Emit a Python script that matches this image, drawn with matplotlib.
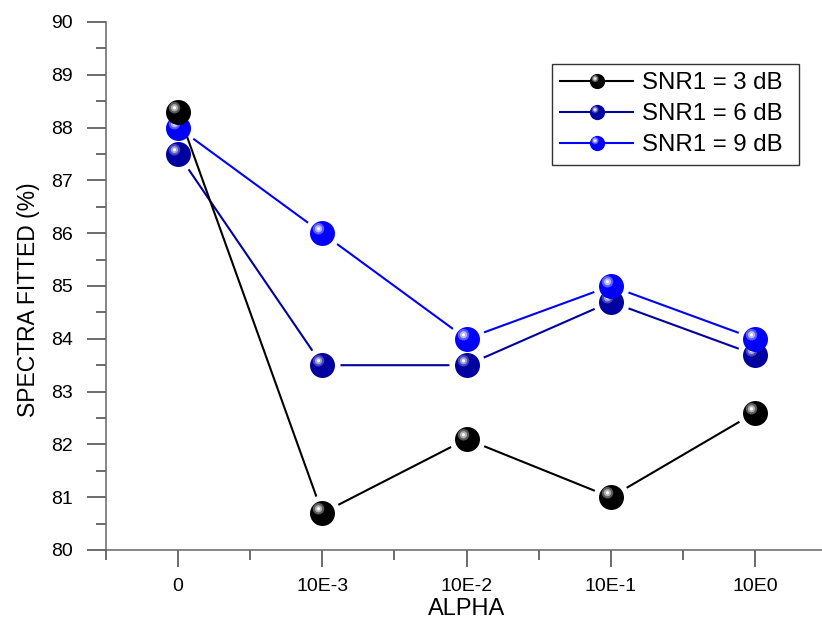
import matplotlib
matplotlib.use("Agg")
import matplotlib.pyplot as plt
from matplotlib.path import Path
from matplotlib.lines import Line2D
from matplotlib.ticker import FixedLocator, MultipleLocator

plt.rcParams['font.family'] = ['Liberation Sans', 'DejaVu Sans']

categories = ["0", "10E-3", "10E-2", "10E-1", "10E0"]
snr3 = [88.3, 80.7, 82.1, 81.0, 82.6]
snr6 = [87.5, 83.5, 83.5, 84.7, 83.7]
snr9 = [88.0, 86.0, 84.0, 85.0, 84.0]
labels = ["SNR1 = 3 dB", "SNR1 = 6 dB", "SNR1 = 9 dB"]

series = [
    # values, line color, base, ring1, ring2
    (snr6, "#0000A0", "#0000A0", "#4545BE", "#A0A0DC"),
    (snr9, "#0000FF", "#0000FF", "#5A5AFF", "#B4B4FF"),
    (snr3, "#000000", "#000000", "#5A5A5A", "#B0B0B0"),
]
legend_order = [2, 0, 1]


def circ_marker(cx, cy, r):
    anchor = Path([(1.0, 1.0), (-1.0, -1.0)], [Path.MOVETO, Path.MOVETO])
    c = Path.circle((cx, cy), r)
    return Path.make_compound_path(anchor, c)


base_m = circ_marker(0, 0, 0.999)
ring1_m = circ_marker(-0.32, 0.38, 0.46)
ring2_m = circ_marker(-0.32, 0.38, 0.29)
dot_m = circ_marker(-0.32, 0.38, 0.13)

fig = plt.figure(figsize=(8.22, 6.22), dpi=100)
ax = fig.add_axes([106 / 822, 72 / 622, 721 / 822, 528 / 622])

x = list(range(len(categories)))
MS = 18
for i, (vals, lc, base, r1, r2) in enumerate(series):
    ax.plot(x, vals, color=lc, lw=1.5, zorder=2 + 2 * i, clip_on=False)
    ax.plot(x, vals, ls='none', marker='o', ms=26, mfc='white', mec='none',
            zorder=3 + 2 * i, clip_on=False)

for i, (vals, lc, base, r1, r2) in enumerate(series):
    z = 20 + 4 * i
    for m, col, dz in [(base_m, base, 0), (ring1_m, r1, 1), (ring2_m, r2, 2), (dot_m, 'white', 3)]:
        ax.plot(x, vals, ls='none', marker=m, ms=MS, mfc=col, mec='none',
                zorder=z + dz, clip_on=False)

# legend handles
handles = []
LMS = 11
for i in legend_order:
    vals, lc, base, r1, r2 = series[i]
    h = [Line2D([], [], color=lc, lw=1.5, marker=base_m, ms=LMS, mfc=base, mec='none')]
    for m, col in [(ring1_m, r1), (ring2_m, r2), (dot_m, 'white')]:
        h.append(Line2D([], [], ls='none', marker=m, ms=LMS, mfc=col, mec='none'))
    handles.append(tuple(h))
leg = ax.legend(handles, labels, loc='upper left', mode='expand',
                bbox_to_anchor=(552 / 822, 1 - 166 / 622, 247 / 822, 102 / 622),
                bbox_transform=fig.transFigure,
                borderaxespad=0, fontsize=17.3, frameon=True, fancybox=False,
                edgecolor='#333333', framealpha=1, handlelength=3.05,
                handletextpad=0.35, labelspacing=0.38, borderpad=0.34)
leg.get_frame().set_linewidth(1.0)
leg.set_zorder(50)

ax.set_xlim(-0.5, 4.5)
ax.set_ylim(80, 90)
ax.set_xticks(x)
ax.set_xticklabels(categories)
ax.xaxis.set_minor_locator(FixedLocator([-0.5, 0.5, 1.5, 2.5, 3.5]))
ax.yaxis.set_major_locator(MultipleLocator(1))
ax.yaxis.set_minor_locator(MultipleLocator(0.5))

for s in ['top', 'right']:
    ax.spines[s].set_visible(False)
for s in ['left', 'bottom']:
    ax.spines[s].set_color('#666666')
    ax.spines[s].set_linewidth(1.1)

ax.tick_params(axis='y', which='major', direction='out', length=14, width=1.1,
               color='#444444', labelsize=14, pad=10)
ax.tick_params(axis='y', which='minor', direction='out', length=7, width=1.1, color='#444444')
ax.tick_params(axis='x', which='major', direction='out', length=12, width=1.1,
               color='#444444', labelsize=14, pad=8)
ax.tick_params(axis='x', which='minor', direction='out', length=7, width=1.1, color='#444444')

ax.set_xlabel("ALPHA", fontsize=17, labelpad=2)
ax.set_ylabel("SPECTRA FITTED (%)", fontsize=16.5)
ax.yaxis.set_label_coords(-0.0915, 0.475)

fig.savefig("out.png", dpi=100)
